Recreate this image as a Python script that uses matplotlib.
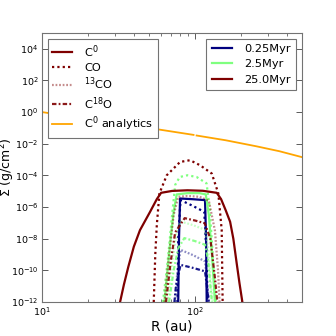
import numpy as np
import matplotlib
matplotlib.use("Agg")
import matplotlib.pyplot as plt
from matplotlib.lines import Line2D

# ---------------- data (log10 R [au], log10 Sigma [g/cm^2]) ----------------
times = ["0.25Myr", "2.5Myr", "25.0Myr"]
time_colors = ["#00007f", "#7fff7f", "#7f0000"]
species = ["C$^0$", "CO", "$^{13}$CO", "C$^{18}$O"]

# 0.25 Myr
lr_c0_a = [1.890, 1.895, 1.902, 1.98, 2.065, 2.072, 2.076]
ls_c0_a = [-12, -8.0, -5.46, -5.50, -5.56, -8.0, -12]
lr_co_a = [1.885, 1.890, 1.905, 1.98, 2.060, 2.075, 2.080]
ls_co_a = [-12, -8.0, -5.56, -5.90, -6.30, -9.0, -12]
lr_13_a = [1.870, 1.880, 1.905, 1.99, 2.065, 2.080, 2.090]
ls_13_a = [-12, -10.5, -8.70, -9.05, -9.43, -10.8, -12]
lr_18_a = [1.865, 1.875, 1.905, 1.99, 2.065, 2.080, 2.090]
ls_18_a = [-12, -11.0, -9.65, -9.85, -10.06, -11.2, -12]

# 2.5 Myr
lr_c0_b = [1.800, 1.820, 1.840, 1.860, 1.880, 1.95, 2.03, 2.070, 2.090, 2.110, 2.130]
ls_c0_b = [-12, -10.0, -8.0, -6.3, -5.2, -5.12, -5.12, -5.2, -6.5, -9.0, -12]
lr_co_b = [1.790, 1.820, 1.850, 1.870, 1.900, 1.95, 2.01, 2.075, 2.095, 2.115, 2.135]
ls_co_b = [-12, -9.5, -6.5, -4.6, -4.1, -3.99, -4.1, -4.5, -6.0, -9.0, -12]
lr_13_b = [1.820, 1.850, 1.880, 1.905, 1.99, 2.065, 2.085, 2.100, 2.115]
ls_13_b = [-12, -9.5, -7.6, -6.91, -7.15, -7.44, -8.5, -10.5, -12]
lr_18_b = [1.830, 1.860, 1.890, 1.930, 2.00, 2.065, 2.085, 2.100, 2.110]
ls_18_b = [-12, -10.0, -8.6, -7.96, -8.15, -8.38, -9.3, -11.0, -12]

# 25.0 Myr
lr_c0_c = [1.510, 1.535, 1.564, 1.600, 1.640, 1.706, 1.750, 1.778, 1.85, 1.95,
           2.05, 2.142, 2.170, 2.200, 2.229, 2.250, 2.272, 2.290, 2.309]
ls_c0_c = [-12, -10.9, -9.77, -8.5, -7.46, -6.30, -5.5, -5.10, -4.98, -4.94,
           -4.97, -5.10, -5.5, -6.2, -6.93, -8.0, -9.56, -10.8, -12]
lr_co_c = [1.730, 1.740, 1.750, 1.767, 1.815, 1.902, 1.967, 2.033, 2.109, 2.152, 2.174, 2.180]
ls_co_c = [-12, -9.0, -7.14, -5.14, -3.99, -3.15, -3.04, -3.36, -3.88, -5.14, -7.46, -12]
lr_13_c = [1.800, 1.830, 1.860, 1.890, 1.95, 2.03, 2.090, 2.130, 2.150, 2.160]
ls_13_c = [-12, -9.0, -6.5, -5.35, -5.30, -5.35, -5.6, -7.5, -10.0, -12]
lr_18_c = [1.810, 1.840, 1.870, 1.932, 2.00, 2.063, 2.100, 2.130, 2.145]
ls_18_c = [-12, -9.5, -7.6, -6.70, -6.85, -7.02, -8.0, -10.5, -12]

# analytic C0 profile
lr_an = [1.0, 1.25, 1.5, 1.75, 1.99, np.nan, 2.01, 2.2, 2.4, 2.55, 2.70]
ls_an = [0.0, -0.36, -0.72, -1.08, -1.44, np.nan, -1.48, -1.78, -2.16, -2.47, -2.85]

xlim = (10, 500)
ylim = (1e-12, 1e5)

# ---------------------------------------------------------------------------
plt.rcParams["font.family"] = ["DejaVu Sans"]
plt.rcParams["mathtext.fontset"] = "dejavusans"

fig = plt.figure(figsize=(3.36, 3.36), dpi=100)
ax = fig.add_axes([0.125, 0.101, 0.774, 0.801])

lw = 1.6
sty = {
    0: dict(linestyle="-", alpha=1.0),
    1: dict(linestyle=(0, (1, 1.4)), alpha=1.0),
    2: dict(linestyle=(0, (0.8, 0.8)), alpha=0.45),
    3: dict(linestyle=(0, (2.0, 1.0, 0.8, 1.0)), alpha=0.9),
}

series = [
    [(lr_c0_a, ls_c0_a), (lr_co_a, ls_co_a), (lr_13_a, ls_13_a), (lr_18_a, ls_18_a)],
    [(lr_c0_b, ls_c0_b), (lr_co_b, ls_co_b), (lr_13_b, ls_13_b), (lr_18_b, ls_18_b)],
    [(lr_c0_c, ls_c0_c), (lr_co_c, ls_co_c), (lr_13_c, ls_13_c), (lr_18_c, ls_18_c)],
]

for ti, col in enumerate(time_colors):
    for si, (lr, lsig) in enumerate(series[ti]):
        ax.plot(10 ** np.array(lr), 10 ** np.array(lsig), color=col, lw=lw, **sty[si])

ax.plot(10 ** np.array(lr_an), 10 ** np.array(ls_an), color="#ffa500", lw=1.3)

ax.set_xscale("log")
ax.set_yscale("log")
ax.set_xlim(*xlim)
ax.set_ylim(*ylim)
ax.set_yticks([10.0 ** k for k in range(-12, 5, 2)])
ax.yaxis.set_minor_locator(matplotlib.ticker.NullLocator())

ax.set_xlabel("R (au)", fontsize=9.8, labelpad=1.5)
ax.set_ylabel(r"$\Sigma$ (g/cm$^2$)", fontsize=9.0)
ax.yaxis.set_label_coords(-0.097, 0.5)

ax.tick_params(which="both", direction="in", top=True, right=True, labelsize=6.8, colors="0.25",
               labelcolor="black")
ax.tick_params(axis="y", pad=2.6)
ax.tick_params(axis="x", pad=2.2)
ax.tick_params(which="major", length=4, width=0.6)
ax.tick_params(which="minor", length=2, width=0.5)
for sp in ax.spines.values():
    sp.set_color("0.45")
    sp.set_linewidth(0.8)

# legend 1: species
h1 = [Line2D([], [], color=time_colors[2], lw=lw, **sty[i]) for i in range(4)]
h1.append(Line2D([], [], color="#ffa500", lw=1.3))
lab1 = species + ["C$^0$ analytics"]
leg1 = ax.legend(h1, lab1, loc="upper left", fontsize=8.2, fancybox=False, framealpha=1,
                 edgecolor="0.45", handlelength=1.7, handletextpad=1.1, labelspacing=0.25,
                 borderaxespad=0.5, borderpad=0.4)
leg1.get_frame().set_linewidth(0.8)
ax.add_artist(leg1)

h2 = [Line2D([], [], color=c, lw=lw) for c in time_colors]
leg2 = ax.legend(h2, times, loc="upper right", fontsize=8.2, fancybox=False, framealpha=1,
                 edgecolor="0.45", handlelength=1.7, handletextpad=1.1, labelspacing=0.45,
                 borderaxespad=0.5, borderpad=0.5)
leg2.get_frame().set_linewidth(0.8)

fig.savefig("out.png", dpi=100)
